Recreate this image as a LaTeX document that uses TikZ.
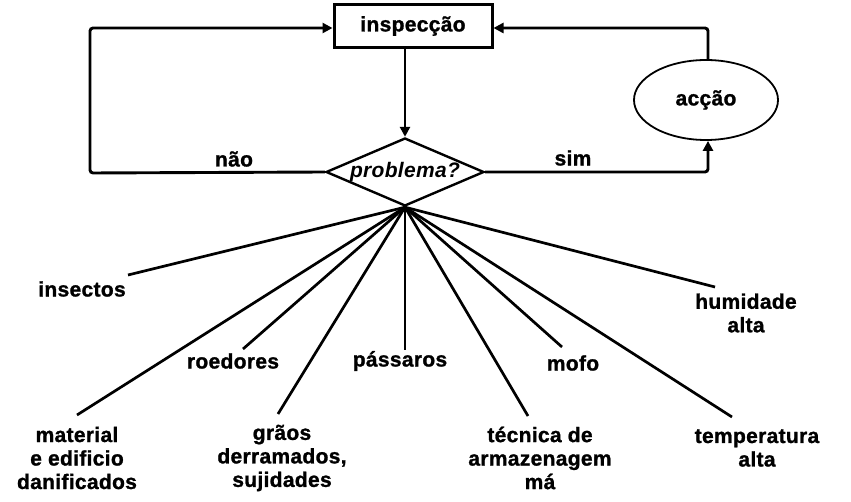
\documentclass[tikz,border=0pt]{standalone}
\usepackage{fontspec}
\setmainfont{Liberation Sans}[BoldFeatures={FakeBold=1.2}]
\usetikzlibrary{shapes.geometric,arrows.meta}
\begin{document}
\begin{tikzpicture}[x=1pt,y=-1pt,
  every node/.style={font=\fontsize{21}{23.5}\selectfont\bfseries\addfontfeature{LetterSpace=1.5}},
  lbl/.style={align=center,inner sep=0pt},
  conn/.style={line width=2.9pt,rounded corners=3pt},
  spoke/.style={line width=2.7pt},
  arr/.style={-{Triangle[length=10pt,width=10pt]}},
]
\useasboundingbox (0,0) rectangle (851,502);
\node[draw,line width=3pt,minimum width=158pt,minimum height=43pt,inner sep=0pt] (insp) at (413,26) {inspecção};
\node[draw,shape=diamond,line width=2.4pt,minimum width=158pt,minimum height=68pt,inner sep=0pt,aspect=2.3,
  font=\fontsize{21}{23.5}\selectfont\bfseries\itshape\addfontfeature{LetterSpace=1.5}] (prob) at (405,172) {problema?};
\node[draw,ellipse,line width=1.8pt,minimum width=144pt,minimum height=80pt,inner sep=0pt] (acc) at (706,100) {acção};

% arrows
\draw[conn,arr] (insp.south -| prob.north) -- (prob.north);
\coordinate (lb) at (90,173);
\coordinate (lt) at (90,28);
\draw[conn,arr] (prob.west) -- (lb) -- (lt) -- (lt -| insp.west);
\coordinate (rb) at (708,172);
\draw[conn,arr] (prob.east) -- (rb) -- (rb |- acc.south);
\coordinate (rt) at (708,28);
\draw[conn,arr] (rt |- acc.north) -- (rt) -- (rt -| insp.east);
\node[lbl] (nao) at (234,159) {não};
\node[lbl] (sim) at (573,158) {sim};

% spoke ends
\coordinate (e1) at (128,275);
\coordinate (e2) at (243,349);
\coordinate (e3) at (77,415);
\coordinate (e4) at (278,414);
\coordinate (e5) at (405,350);
\coordinate (e6) at (562,347);
\coordinate (e7) at (528,416);
\coordinate (e8) at (715,287);
\coordinate (e9) at (732,417);
\foreach \e in {e1,e2,e3,e4,e5,e6,e7,e8,e9} \draw[spoke] (prob.south) -- (\e);

\node[lbl] (l1) at (82,289) {insectos};
\node[lbl] (l2) at (233,361) {roedores};
\node[lbl] (l3) at (77,458) {material\\e edificio\\danificados};
\node[lbl] (l4) at (282,458) {grãos\\derramados,\\sujidades};
\node[lbl] (l5) at (400,361) {pássaros};
\node[lbl] (l6) at (573,363) {mofo};
\node[lbl] (l7) at (540,458) {técnica de\\armazenagem\\má};
\node[lbl] (l8) at (746,313) {humidade\\alta};
\node[lbl] (l9) at (757,448) {temperatura\\alta};
\end{tikzpicture}
\end{document}
